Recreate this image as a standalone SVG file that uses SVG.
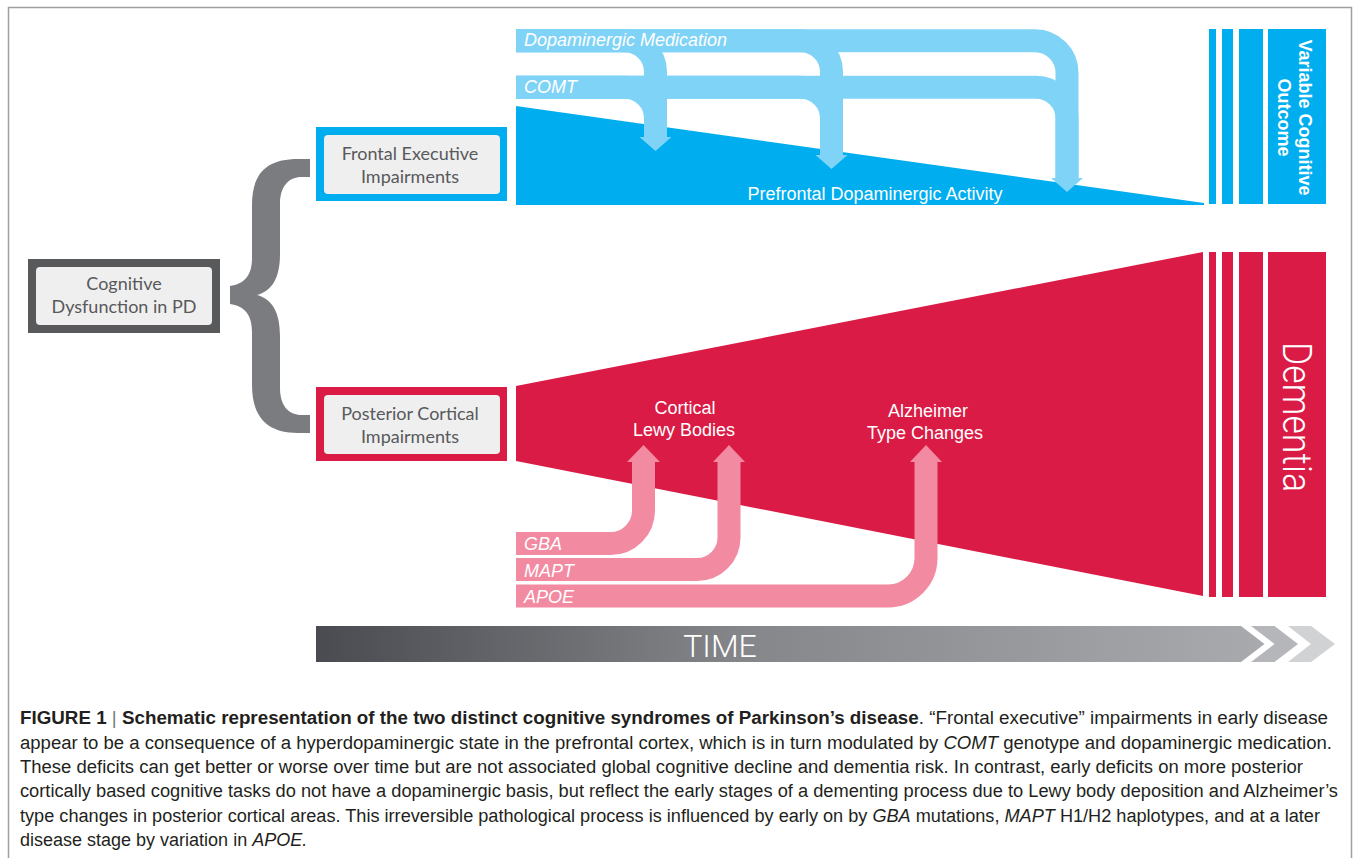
<svg xmlns="http://www.w3.org/2000/svg" width="1356" height="858" viewBox="0 0 1356 858">
<defs>
<linearGradient id="timeGrad" x1="316" y1="0" x2="1264" y2="0" gradientUnits="userSpaceOnUse">
<stop offset="0" stop-color="#4a4b50"/>
<stop offset="0.45" stop-color="#85868a"/>
<stop offset="1" stop-color="#a9aaad"/>
</linearGradient>
</defs>
<style>
.box-label{font-family:Lato,"Open Sans",sans-serif;font-size:18px;fill:#58595b;text-anchor:middle}
.inner{fill:#efefef}
.lb{fill:none;stroke:#7fd3f6;stroke-width:23}
.lbh{fill:#7fd3f6}
.pk{fill:none;stroke:#f28aa1;stroke-width:23}
.pkh{fill:#f28aa1}
.wt{font-family:"Liberation Sans",Arial,sans-serif;font-size:18px;fill:#ffffff}
.it{font-style:italic}
.blue{fill:#00aeef}
.red{fill:#da1b45}
.cap{font-family:"Liberation Sans",Arial,sans-serif;font-size:18px;fill:#231f20}
</style>
<rect x="0" y="0" width="1356" height="858" fill="#ffffff"/>
<path d="M8.5,858 V7.5 H1351.5 V858" fill="none" stroke="#a0a0a0" stroke-width="1.5"/>

<!-- Frontal / dopaminergic region -->
<g id="prefrontal-activity">
<polygon class="blue" points="516,106 1204,203 1204,205 516,205"/>
<text class="wt" x="875" y="200" text-anchor="middle">Prefrontal Dopaminergic Activity</text>
</g>
<g id="variable-outcome">
<rect class="blue" x="1209" y="29" width="7" height="175"/>
<rect class="blue" x="1222" y="29" width="11" height="175"/>
<rect class="blue" x="1239" y="29" width="24" height="175"/>
<rect class="blue" x="1268" y="29" width="58" height="175"/>
<text class="wt" transform="translate(1299,117.5) rotate(90)" text-anchor="middle" font-weight="bold" font-size="17.5">Variable Cognitive</text>
<text class="wt" transform="translate(1278,117.5) rotate(90)" text-anchor="middle" font-weight="bold" font-size="17.5">Outcome</text>
</g>

<!-- Posterior / dementia region -->
<g id="dementia-process">
<polygon class="red" points="516,386 1203,252 1203,596 516,461"/>
<text class="wt" x="685" y="414" text-anchor="middle">Cortical</text>
<text class="wt" x="684" y="436" text-anchor="middle">Lewy Bodies</text>
<text class="wt" x="928" y="417" text-anchor="middle">Alzheimer</text>
<text class="wt" x="925" y="439" text-anchor="middle">Type Changes</text>
</g>
<g id="dementia">
<rect class="red" x="1209" y="252" width="7" height="345"/>
<rect class="red" x="1222" y="252" width="11" height="345"/>
<rect class="red" x="1239" y="252" width="24" height="345"/>
<rect class="red" x="1268" y="252" width="58" height="345"/>
<text transform="translate(1283,417) rotate(90)" text-anchor="middle" font-family="Roboto, 'Liberation Sans', sans-serif" font-weight="300" font-size="40" fill="#ffffff" textLength="150" lengthAdjust="spacingAndGlyphs">Dementia</text>
</g>

<!-- Nodes -->
<g id="node-cognitive">
<rect x="28" y="259" width="192" height="74" fill="#58595b"/>
<rect class="inner" x="36" y="267" width="176" height="58" rx="4"/>
<text class="box-label" x="124" y="290">Cognitive</text>
<text class="box-label" x="124" y="313">Dysfunction in PD</text>
</g>
<g id="node-frontal">
<rect x="316" y="127" width="191" height="74" fill="#00aeef"/>
<rect class="inner" x="324" y="135" width="176" height="59" rx="4"/>
<text class="box-label" x="410" y="160">Frontal Executive</text>
<text class="box-label" x="410" y="182.5">Impairments</text>
</g>
<g id="node-posterior">
<rect x="316" y="387" width="191" height="74" fill="#da1b45"/>
<rect class="inner" x="324" y="395" width="176" height="59" rx="4"/>
<text class="box-label" x="410" y="420">Posterior Cortical</text>
<text class="box-label" x="410" y="442.5">Impairments</text>
</g>

<!-- Connectors -->
<g id="connectors">
<path id="brace" fill="#7b7c80" d="M310,159 L298,159 C268,159 252,172 252,205 L252,258 C252,276 244,284 230,286 L230,304 C244,306 252,314 252,332 L252,385 C252,418 268,433 298,433 L310,433 L310,415 L302,415 C288,415 280,405 280,388 L280,336 C280,312 272,299 257,295 C272,291 280,278 280,254 L280,204 C280,187 288,177 302,177 L310,177 Z"/>

<g id="dopaminergic-medication">
<path class="lb" d="M516,40.7 H1035 A32 32 0 0 1 1067,72.7 V179"/>
<path class="lb" d="M516,40.7 H624.5 A31 31 0 0 1 655.5,71.7 V138"/>
<path class="lb" d="M516,40.7 H800.5 A31 31 0 0 1 831.5,71.7 V156"/>
</g>
<g id="comt">
<path class="lb" d="M516,87.3 H624.5 A31 31 0 0 1 655.5,118.3 V138"/>
<path class="lb" d="M516,87.3 H800.5 A31 31 0 0 1 831.5,118.3 V156"/>
<path class="lb" d="M516,87.3 H1036 A31 31 0 0 1 1067,118.3 V179"/>
</g>
<polygon class="lbh" points="639.5,137 671.5,137 655.5,151"/>
<polygon class="lbh" points="815.5,155 847.5,155 831.5,169"/>
<polygon class="lbh" points="1051,178 1083,178 1067,192"/>
<text class="wt it" x="524" y="46">Dopaminergic Medication</text>
<text class="wt it" x="524" y="93">COMT</text>

<path class="pk" d="M516,543.5 H610.5 A33 33 0 0 0 643.5,510.5 V461"/>
<path class="pk" d="M516,569.5 H697 A32 32 0 0 0 729,537.5 V461"/>
<path class="pk" d="M516,596 H888 A38 38 0 0 0 926,558 V461"/>
<polygon class="pkh" points="627,462 660,462 643.5,445"/>
<polygon class="pkh" points="713,462 745,462 729,445"/>
<polygon class="pkh" points="910,462 942,462 926,445"/>
<text class="wt it" x="524" y="550">GBA</text>
<text class="wt it" x="524" y="576.5">MAPT</text>
<text class="wt it" x="524" y="603">APOE</text>
</g>

<!-- Time axis -->
<g id="time">
<polygon points="316,626 1241,626 1264.5,644 1241,662 316,662" fill="url(#timeGrad)"/>
<polygon points="1251,626 1274.5,626 1298,644 1274.5,662 1251,662 1274.5,644" fill="#b5b6b9"/>
<polygon points="1288,626 1311,626 1335,644 1311,662 1288,662 1311,644" fill="#d1d2d4"/>
<text x="720" y="657" text-anchor="middle" font-family="Roboto, 'Liberation Sans', sans-serif" font-weight="300" font-size="32" fill="#ffffff">TIME</text>
</g>

<!-- Caption -->
<g id="caption">
<text class="cap" x="20" y="724" textLength="1308" lengthAdjust="spacingAndGlyphs"><tspan font-weight="bold">FIGURE 1</tspan><tspan fill="#777"> | </tspan><tspan font-weight="bold">Schematic representation of the two distinct cognitive syndromes of Parkinson’s disease</tspan>. “Frontal executive” impairments in early disease</text>
<text class="cap" x="20" y="748.5" textLength="1312" lengthAdjust="spacingAndGlyphs">appear to be a consequence of a hyperdopaminergic state in the prefrontal cortex, which is in turn modulated by <tspan font-style="italic">COMT</tspan> genotype and dopaminergic medication.</text>
<text class="cap" x="20" y="773" textLength="1283" lengthAdjust="spacingAndGlyphs">These deficits can get better or worse over time but are not associated global cognitive decline and dementia risk. In contrast, early deficits on more posterior</text>
<text class="cap" x="20" y="797" textLength="1318" lengthAdjust="spacingAndGlyphs">cortically based cognitive tasks do not have a dopaminergic basis, but reflect the early stages of a dementing process due to Lewy body deposition and Alzheimer’s</text>
<text class="cap" x="20" y="821.5" textLength="1300" lengthAdjust="spacingAndGlyphs">type changes in posterior cortical areas. This irreversible pathological process is influenced by early on by <tspan font-style="italic">GBA</tspan> mutations, <tspan font-style="italic">MAPT</tspan> H1/H2 haplotypes, and at a later</text>
<text class="cap" x="20" y="846">disease stage by variation in <tspan font-style="italic">APOE.</tspan></text>
</g>
</svg>
